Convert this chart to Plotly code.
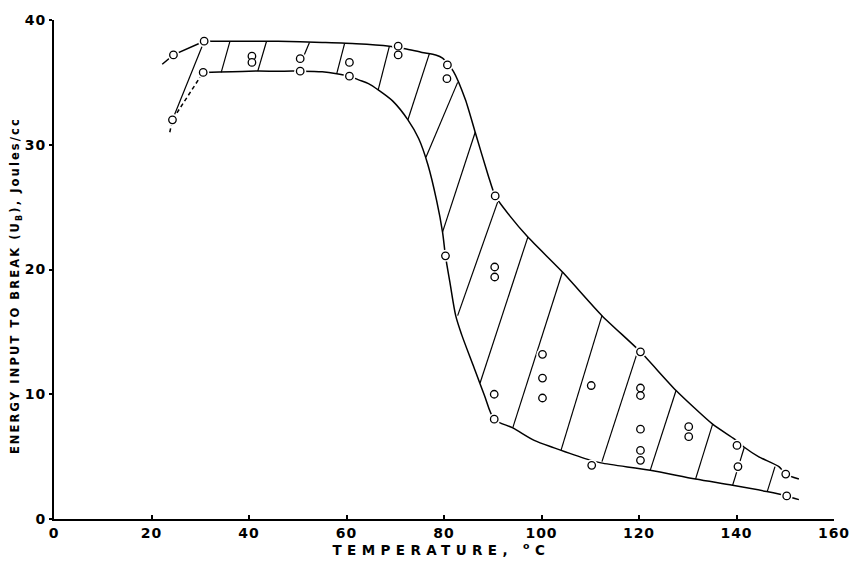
import plotly.graph_objects as go

# ---- data ----
# measured points (open circles)
pts_x = [24.5, 24.3, 30.8, 30.6, 40.6, 40.6, 50.5, 50.5, 60.6, 60.6, 70.6, 70.6,
         80.7, 80.6, 80.3, 90.5, 90.4, 90.4, 90.3, 90.3, 100.2, 100.2, 100.2,
         110.2, 110.3, 120.3, 120.3, 120.3, 120.3, 120.3, 120.3, 130.2, 130.2,
         140.1, 140.3, 150.1, 150.3]
pts_y = [37.2, 32.0, 38.3, 35.8, 37.1, 36.6, 36.9, 35.9, 36.6, 35.5, 37.9, 37.2,
         36.4, 35.3, 21.1, 25.9, 20.2, 19.4, 10.0, 8.0, 13.2, 11.3, 9.7,
         10.7, 4.3, 13.4, 10.5, 9.9, 7.2, 5.5, 4.7, 7.4, 6.6,
         5.9, 4.2, 3.6, 1.85]

# upper boundary curve
upper_left_x = [22.2, 24.5, 30.8]
upper_left_y = [36.45, 37.2, 38.3]
upper_x = [30.8, 36, 46, 55, 62, 68.8, 72, 75.5, 78.3, 79.7, 81.9, 84.4, 86.4,
           89.1, 90.5, 93.5, 97.2, 104.3, 112.4, 120.3, 127.6, 135.1, 139.6,
           141.6, 144.5, 148.7, 150.1, 152.8]
upper_y = [38.3, 38.3, 38.3, 38.2, 38.1, 37.9, 37.7, 37.4, 37.2, 36.95, 35.9,
           33.6, 31.0, 27.5, 25.9, 24.3, 22.6, 19.8, 16.3, 13.4, 10.3, 7.6, 6.4,
           5.75, 5.0, 4.2, 3.6, 3.2]

# lower boundary curve
lower_left_x = [23.75, 24.3, 30.6]
lower_left_y = [31.0, 32.0, 35.8]
lower_x = [30.6, 40, 45.8, 50.5, 55, 58, 60.6, 62.5, 64.5, 66.5, 69.5, 72.6,
           74.8, 76.7, 78.5, 79.7, 80.3, 81.2, 82.4, 83.6, 86.0, 88.3, 90.3, 94.1,
           98.5, 102.6, 109.3, 112.2, 122.3, 131.6, 139.2, 146.2, 150.3, 152.8]
lower_y = [35.8, 35.9, 35.9, 35.9, 35.85, 35.7, 35.5, 35.2, 34.9, 34.4, 33.5,
           32.0, 30.5, 28.4, 25.5, 23.0, 21.1, 19.0, 16.3, 14.8, 12.3, 9.9, 8.0,
           7.3, 6.3, 5.7, 4.8, 4.5, 3.9, 3.2, 2.7, 2.2, 1.85, 1.55]

# hatch lines (top end on upper curve -> bottom end on lower curve)
hatch_top_x = [30.8, 36.1, 43.6, 52.4, 59.6, 68.8, 77.0, 82.8, 86.4, 91.0,
               97.2, 104.3, 112.4, 119.7, 127.6, 135.1, 141.6, 147.9]
hatch_top_y = [38.3, 38.3, 38.3, 38.2, 38.1, 37.9, 37.3, 35.0, 31.0, 25.4,
               22.6, 19.8, 16.3, 13.4, 10.3, 7.6, 5.75, 4.2]
hatch_bot_x = [24.3, 34.3, 41.8, 51.0, 58.0, 66.5, 72.6, 76.3, 79.7, 82.8,
               87.4, 94.1, 104.0, 112.4, 122.3, 131.6, 139.2, 146.3]
hatch_bot_y = [32.0, 35.8, 35.9, 36.9, 35.7, 34.4, 32.0, 29.0, 23.0, 16.3,
               10.9, 7.3, 5.5, 4.6, 3.9, 3.2, 2.7, 2.2]

x_ticks = [0, 20, 40, 60, 80, 100, 120, 140, 160]
y_ticks = [0, 10, 20, 30, 40]
x_title = "TEMPERATURE, <sup>o</sup>C"
y_title = "ENERGY INPUT TO BREAK (U<sub>B</sub>), Joules/cc"

# ---- figure ----
fig = go.Figure()
ink = "black"

hx, hy = [], []
for a, b, c, d in zip(hatch_top_x, hatch_top_y, hatch_bot_x, hatch_bot_y):
    hx += [a, c, None]
    hy += [b, d, None]
fig.add_trace(go.Scatter(x=hx, y=hy, mode="lines",
                         line=dict(color=ink, width=1.2), hoverinfo="skip"))

fig.add_trace(go.Scatter(x=upper_left_x, y=upper_left_y, mode="lines",
                         line=dict(color=ink, width=1.5)))
fig.add_trace(go.Scatter(x=upper_x, y=upper_y, mode="lines",
                         line=dict(color=ink, width=1.5, shape="spline", smoothing=0.6)))
fig.add_trace(go.Scatter(x=lower_left_x, y=lower_left_y, mode="lines",
                         line=dict(color=ink, width=1.5, dash="4px,3px")))
fig.add_trace(go.Scatter(x=lower_x, y=lower_y, mode="lines",
                         line=dict(color=ink, width=1.5, shape="spline", smoothing=0.8)))

# white halo to create the small gaps around the circles
fig.add_trace(go.Scatter(x=pts_x, y=pts_y, mode="markers",
                         marker=dict(size=12, color="white", line=dict(width=0))))
fig.add_trace(go.Scatter(x=pts_x, y=pts_y, mode="markers",
                         marker=dict(size=7.5, color="white", symbol="circle",
                                     line=dict(color=ink, width=1.3))))

font_family = "DejaVu Sans"
tick_font = dict(size=14, family=font_family, color=ink, weight="bold")
fig.update_layout(
    width=861, height=565,
    margin=dict(l=54, r=18, t=17, b=46),
    paper_bgcolor="white", plot_bgcolor="white",
    showlegend=False,
    font=dict(family=font_family, color=ink),
    xaxis=dict(range=[0, 160], tickvals=x_ticks, showgrid=False, zeroline=False,
               showline=True, linecolor=ink, linewidth=2, ticks="inside",
               ticklen=4, tickwidth=1.5, tickcolor=ink, tickfont=tick_font),
    yaxis=dict(range=[0, 40], tickvals=y_ticks, showgrid=False, zeroline=False,
               showline=True, linecolor=ink, linewidth=2, ticks="outside",
               ticklen=3, tickwidth=1.5, tickcolor=ink, tickfont=tick_font),
    annotations=[
        dict(text=x_title, xref="paper", yref="paper", x=0.497, y=-0.061,
             xanchor="center", yanchor="middle", showarrow=False,
             font=dict(size=13.5, family=font_family, color=ink, weight="bold")),
        dict(text=y_title, xref="paper", yref="paper", x=-0.049, y=0.468,
             xanchor="center", yanchor="middle", showarrow=False, textangle=-90,
             font=dict(size=11.5, family=font_family, color=ink, weight="bold")),
    ],
)

post = ("var s=document.createElement('style');"
        "s.textContent='.xtick text,.ytick text{letter-spacing:1px}';"
        "document.head.appendChild(s);"
        "document.querySelectorAll('.annotation-text').forEach(function(t){"
        "if(t.textContent.indexOf('TEMP')===0){t.style.letterSpacing='5.4px';}"
        "else{t.style.letterSpacing='2.1px';}});")

fig.write_html("out.html", post_script=post, config={"displayModeBar": False})
